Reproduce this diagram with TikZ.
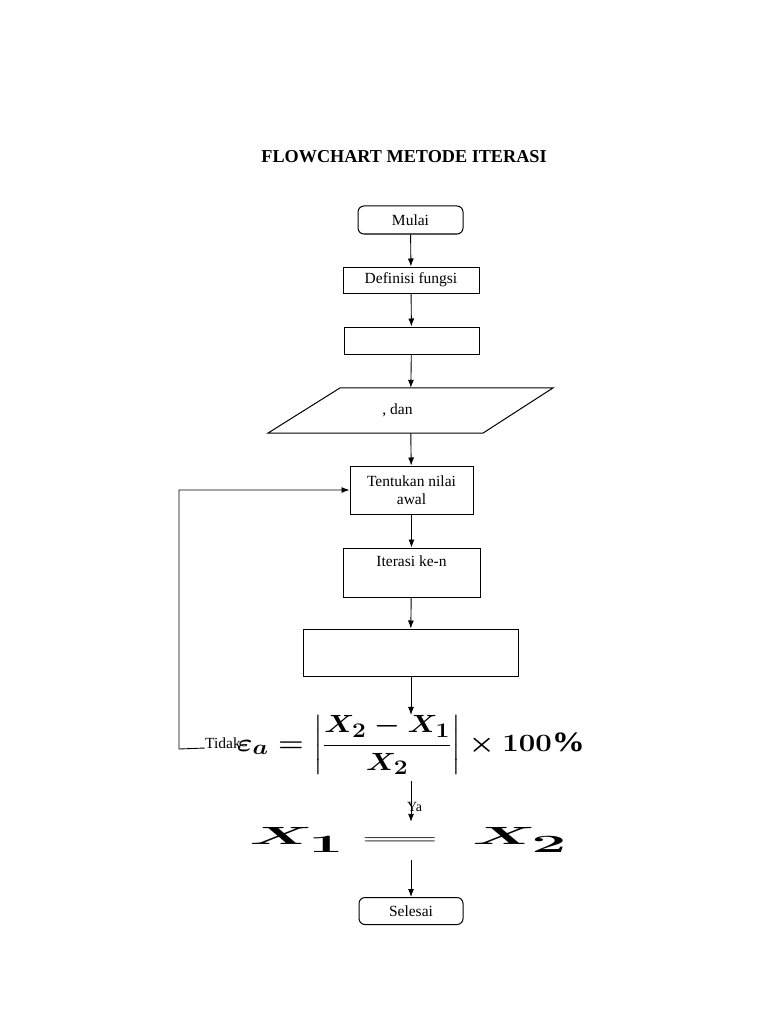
\documentclass[tikz,border=0pt]{standalone}
\usepackage{amsmath}
\usepackage{fontspec}
\setmainfont{Liberation Serif}
\usetikzlibrary{arrows.meta}
\begin{document}
\begin{tikzpicture}[x=1pt,y=-1pt,
  box/.style={draw,line width=1pt,inner sep=0pt,font=\fontsize{15.5}{18}\selectfont},
  term/.style={box,rounded corners=6pt},
  arr/.style={-{Latex[length=8pt,width=6pt]},line width=0.9pt},
  big/.style={inner sep=0pt,font=\boldmath\fontsize{36}{38}\selectfont}]
\useasboundingbox (0,0) rectangle (768,1024);
\node[font=\bfseries\fontsize{18.2}{20}\selectfont] (title) at (404,157) {FLOWCHART METODE ITERASI};
\node[term,minimum width=105,minimum height=28] (mulai) at (410.5,220) {Mulai};
\node[box,minimum width=136,minimum height=26] (fungsi) at (411,280) {Definisi fungsi};
\node[box,minimum width=135,minimum height=27] (kosong) at (411.5,340.5) {};
\node[inner sep=0pt,minimum width=285,minimum height=45,
  label={[xshift=-13pt,font=\fontsize{15.5}{18}\selectfont]center:, dan}] (input) at (410.5,410.5) {};
\draw[line width=1pt] (input.south west) -- ([xshift=215pt]input.south west)
  -- (input.north east) -- ([xshift=-213pt]input.north east) -- cycle;
\node[box,minimum width=123,minimum height=48,align=center] (awal) at (411.5,490) {Tentukan nilai\\awal};
\node[box,minimum width=137,minimum height=49,
  label={[anchor=north,yshift=-5pt,font=\fontsize{15.5}{18}\selectfont]north:Iterasi ke-n}] (iterasi) at (411.5,572.5) {};
\node[box,minimum width=215,minimum height=47] (hitung) at (410.5,652.5) {};
\node[inner sep=0pt,font=\boldmath\fontsize{28}{30}\selectfont] (galat) at (411,745)
  {\scalebox{1.18}[1]{$\varepsilon_a = \left|\dfrac{X_2 - X_1}{X_2}\right| \times 100\%$}};
\node[anchor=base east,inner sep=0pt,font=\fontsize{15.5}{18}\selectfont] (tidak) at (241,748) {Tidak};
\node[anchor=base west,inner sep=0pt,font=\fontsize{14}{16}\selectfont] (ya) at (407,811) {Ya};
\node[big,minimum height=38] (sama) at (400,841) {\scalebox{3.8}[0.6]{$=$}};
\node[big] (xsatu) at (297,840) {\scalebox{2.5}[1]{$X_1$}};
\node[big] (xdua) at (520,840) {\scalebox{2.5}[1]{$X_2$}};
\node[term,minimum width=104,minimum height=27] (selesai) at (411,911) {Selesai};
\coordinate (balik) at (179,749);
% alur utama
\draw[arr] (mulai) -- (fungsi);
\draw[arr] (fungsi) -- (kosong);
\draw[arr] (kosong) -- (input);
\draw[arr] (input) -- (awal);
\draw[arr] (awal) -- (iterasi);
\draw[arr] (iterasi) -- (hitung);
\draw[arr] (hitung.south -| selesai) -- (galat.north -| selesai);
\draw[arr] ([yshift=-6pt]galat.south -| selesai) -- (sama.north -| selesai);
\draw[arr] (sama.south -| selesai) -- (selesai);
% kembali
\draw[arr] (tidak.base west) -- (balik) |- (awal.west);
\end{tikzpicture}
\end{document}
